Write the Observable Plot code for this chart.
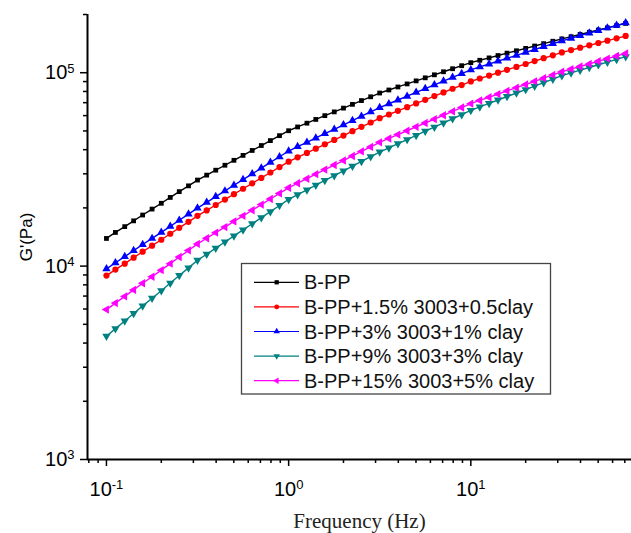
<!DOCTYPE html>
<html><head><meta charset="utf-8">
<script src="https://cdn.jsdelivr.net/npm/d3@7"></script>
<script src="https://cdn.jsdelivr.net/npm/@observablehq/plot@0.6"></script>
<style>
html,body{margin:0;padding:0;background:#fff;}
#chart{position:relative;width:631px;height:533px;overflow:hidden;}
#chart svg{font-family:"Liberation Sans",Arial,sans-serif;}
g[aria-label="y-axis label"] text{font-size:17px;}
g[aria-label="x-axis label"] text{font-family:"Liberation Serif","DejaVu Serif",serif;font-size:21px;fill:#222;}
g[aria-label$="tick label"] text{font-size:20px;}
</style></head><body><div id="chart"></div>
<script>
// Frequency (Hz)
const frequency = [0.1,0.112,0.126,0.141,0.158,0.178,0.2,0.224,0.251,0.282,0.316,0.355,0.398,0.447,0.501,0.562,0.631,0.708,0.794,0.891,1,1.12,1.26,1.41,1.58,1.78,2,2.24,2.51,2.82,3.16,3.55,3.98,4.47,5.01,5.62,6.31,7.08,7.94,8.91,10,11.2,12.6,14.1,15.8,17.8,20,22.4,25.1,28.2,31.6,35.5,39.8,44.7,50.1,56.2,63.1,70.8];
// G' (Pa) per sample
const gBPP = [13900,14930,16000,17140,18370,19720,21130,22650,24270,26000,27860,29540,31330,33230,35240,37370,39630,42030,44570,47270,50120,52420,54830,57340,59980,62730,65610,68620,71780,75070,78520,81410,84400,87500,90740,94090,97540,101130,104860,108720,112720,115960,119290,122710,126240,129870,133600,137440,141380,145450,149620,153590,157710,161920,166220,170640,175210,179890];
const gClay05 = [8930,9590,10300,11060,11870,12750,13690,14700,15780,16950,18200,19410,20700,22080,23550,25120,26790,28580,30480,32510,34670,36520,38460,40500,42660,44930,47320,49830,52480,55270,58210,60810,63530,66370,69340,72440,75680,79070,82600,86300,90160,93330,96610,100000,103510,107150,110920,114820,118850,123030,127350,130950,134670,138480,142420,146460,150620,154880];
const gClay1 = [9680,10410,11190,12030,12930,13900,14940,16060,17270,18570,19950,21360,22860,24470,26180,28020,29990,32100,34360,36770,39360,41450,43650,45970,48420,50990,53700,56550,59570,62730,66070,69100,72280,75590,79070,82700,86500,90470,94620,98970,103510,107150,110920,114820,118850,123030,127350,131830,136460,141250,146220,150770,155450,160290,165270,170410,175700,181130];
const gClay3 = [4340,4750,5200,5690,6230,6820,7460,8170,8940,9790,10720,11520,12390,13320,14320,15400,16560,17800,19140,20580,22130,23420,24770,26210,27730,29340,31050,32850,34750,36770,38900,40870,42950,45130,47420,49830,52360,55020,57810,60740,63830,66530,69340,72280,75340,78520,81850,85310,88920,92680,96610,99770,103040,106410,109900,113500,117220,121060];
const gClay5 = [5960,6440,6970,7530,8150,8810,9530,10300,11140,12050,13030,13930,14890,15920,17020,18200,19450,20800,22230,23770,25410,26830,28310,29890,31550,33310,35160,37110,39170,41350,43650,45710,47860,50120,52480,54950,57540,60260,63100,66070,69180,71870,74640,77530,80540,83660,86900,90270,93760,97390,101160,104380,107670,111100,114630,118280,122010,125890];

const seriesNames = ["B-PP","B-PP+1.5% 3003+0.5clay","B-PP+3% 3003+1% clay","B-PP+9% 3003+3% clay","B-PP+15% 3003+5% clay"];
const seriesValues = [gBPP, gClay05, gClay1, gClay3, gClay5];
const seriesColors = ["#000000","#ff0000","#0000ff","#008080","#ff00ff"];
const seriesSymbols = ["square","circle","triangle","triangle","triangle"];
const seriesRotate = [0,0,0,180,-90];

const xMajorTicks = [0.1,1,10];
const xMinorTicks = [0.08,0.09,0.2,0.3,0.4,0.5,0.6,0.7,0.8,0.9,2,3,4,5,6,7,8,9,20,30,40,50,60,70];
const yMajorTicks = [1e3,1e4,1e5];
const yMinorTicks = [2e3,3e3,4e3,5e3,6e3,7e3,8e3,9e3,2e4,3e4,4e4,5e4,6e4,7e4,8e4,9e4,2e5];
const xDomain = [0.0787, 76.2];
const yDomain = [1e3, 2e5];

const rows = seriesNames.map((name, s) => frequency.map((f, i) => ({series: name, f, g: seriesValues[s][i]})));

const seriesMarks = [];
seriesNames.forEach((name, s) => {
  seriesMarks.push(Plot.line(rows[s], {x: "f", y: "g", stroke: seriesColors[s], strokeWidth: 1.4}));
  seriesMarks.push(Plot.dot(rows[s], {x: "f", y: "g", symbol: seriesSymbols[s], rotate: seriesRotate[s], fill: seriesColors[s], stroke: "none", r: s === 0 ? 2.7 : 3.1}));
});

const expFmt = d => "10^" + Math.round(Math.log10(d));

const plot = Plot.plot({
  width: 631, height: 533,
  marginLeft: 87, marginRight: 0, marginTop: 14, marginBottom: 74,
  style: {background: "white", color: "black"},
  x: {type: "log", domain: xDomain},
  y: {type: "log", domain: yDomain},
  marks: [
    Plot.axisY(yMinorTicks, {tickSize: 4, tickFormat: () => "", strokeWidth: 1.5, label: null}),
    Plot.axisY(yMajorTicks, {tickSize: 7, tickPadding: 6, tickFormat: expFmt, strokeWidth: 1.5, label: "G'(Pa)", labelAnchor: "center", labelArrow: "none", labelOffset: 68}),
    Plot.axisX(xMinorTicks, {tickSize: 4, tickFormat: () => "", strokeWidth: 1.5, label: null}),
    Plot.axisX(xMajorTicks, {tickSize: 7, tickPadding: 15, tickFormat: expFmt, strokeWidth: 1.5, label: "Frequency (Hz)", labelAnchor: "center", labelArrow: "none", labelOffset: 68}),
    Plot.ruleX([xDomain[0]], {strokeWidth: 2}),
    Plot.ruleY([yDomain[0]], {strokeWidth: 2}),
    ...seriesMarks
  ]
});

const svg = d3.select(plot);
// superscript tick labels
svg.selectAll('g[aria-label$="tick label"] text').each(function() {
  const t = this.textContent;
  if (!t.includes("^")) return;
  const [base, exp] = t.split("^");
  const el = d3.select(this);
  el.text(null);
  el.append("tspan").text(base);
  el.append("tspan").attr("dy", "-0.5em").attr("font-size", "13px").text(exp);
});

// legend
const lg = svg.append("g").attr("class", "legend").attr("text-anchor", "start");
lg.append("rect").attr("x", 241.5).attr("y", 263.5).attr("width", 309).attr("height", 130.5)
  .attr("fill", "white").attr("stroke", "#444").attr("stroke-width", 1.3);
const symbolMap = {square: d3.symbolSquare, circle: d3.symbolCircle, triangle: d3.symbolTriangle};
seriesNames.forEach((name, i) => {
  const y = 282.3 + i * 24.6;
  lg.append("line").attr("x1", 254).attr("x2", 299).attr("y1", y).attr("y2", y)
    .attr("stroke", seriesColors[i]).attr("stroke-width", 1.2);
  lg.append("path").attr("d", d3.symbol(symbolMap[seriesSymbols[i]], 18)())
    .attr("transform", `translate(276.7,${y}) rotate(${seriesRotate[i]})`).attr("fill", seriesColors[i]);
  lg.append("text").attr("x", 304).attr("y", y).attr("dy", "0.35em").attr("font-size", "20px")
    .attr("fill", "#111").text(name);
});

document.getElementById("chart").appendChild(plot);
</script></body></html>
